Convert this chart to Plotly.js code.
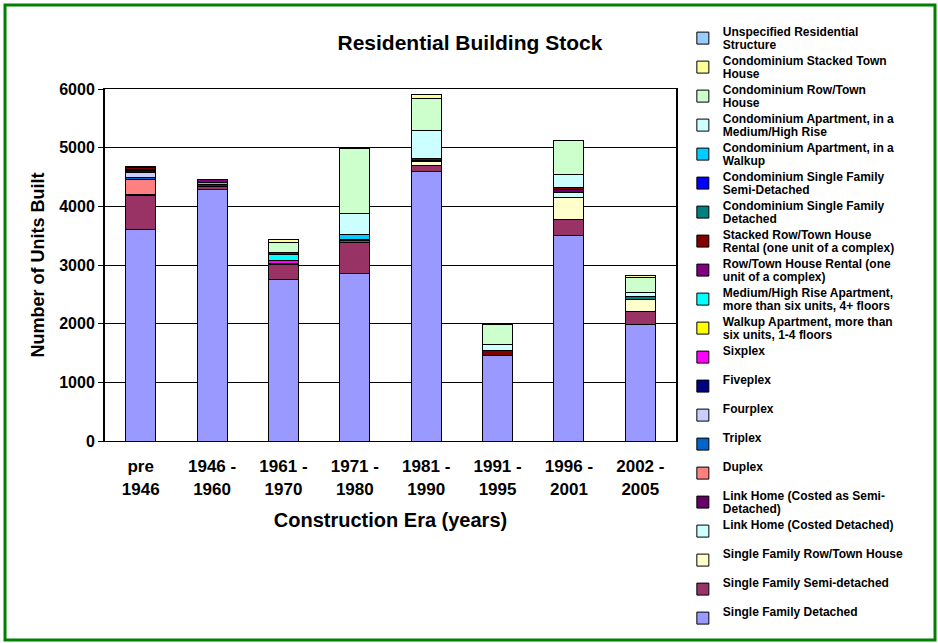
<!DOCTYPE html>
<html>
<head>
<meta charset="utf-8">
<script src="https://cdn.plot.ly/plotly-3.0.1.min.js"></script>
<style>
  html, body { margin: 0; padding: 0; background: #ffffff; }
  #chart { width: 938px; height: 643px; }
</style>
</head>
<body>
<div id="chart"></div>
<script>
// construction eras (x categories)
var eras = ["pre<br>1946", "1946 -<br>1960", "1961 -<br>1970", "1971 -<br>1980",
            "1981 -<br>1990", "1991 -<br>1995", "1996 -<br>2001", "2002 -<br>2005"];

// units built per era, one array per building type (stack order, bottom first)
var sfDetached      = [3600, 4290, 2750, 2850, 4590, 1455, 3510, 1990];
var sfSemi          = [ 580,   50,  260,  530,  110,    0,  270,  215];
var sfRowTown       = [   0,    0,    0,    0,   60,    0,  375,  215];
var linkDetached    = [   0,    0,    0,    0,    0,    0,   80,    0];
var linkSemi        = [  15,   30,    0,    0,   25,    0,   45,    0];
var duplex          = [ 255,   30,    0,    0,    0,    0,    0,    0];
var triplex         = [  50,    0,    0,    0,    0,    0,    0,    0];
var fourplex        = [  75,    0,    0,    0,    0,    0,    0,    0];
var fiveplex        = [  35,    0,   15,    0,    0,    0,    0,    0];
var sixplex         = [   0,    0,   55,    0,    0,    0,    0,    0];
var walkupApt       = [   0,    0,    0,    0,    0,    0,    0,    0];
var highRiseApt     = [   0,    0,  100,    0,    0,    0,    0,    0];
var rowRental       = [  25,   60,    0,    0,    0,    0,    0,    0];
var stackedRental   = [  25,    0,   40,    0,   35,   80,   40,    0];
var condoSfDetached = [   0,    0,    0,   35,    0,    0,    0,   40];
var condoSfSemi     = [  20,    0,    0,   20,    0,    0,    0,    0];
var condoWalkup     = [   0,    0,    0,   80,    0,    0,    0,    0];
var condoHighRise   = [   0,    0,    0,  355,  475,  115,  230,   70];
var condoRowTown    = [   0,    0,  165, 1110,  535,  340,  565,  255];
var condoStacked    = [   0,    0,   55,    0,   75,    0,    0,   35];
var unspecified     = [   0,    0,    0,    0,    0,    0,    0,    0];

var series = [
  {name: "Single Family Detached", y: sfDetached, color: "#9999FF"},
  {name: "Single Family Semi-detached", y: sfSemi, color: "#993366"},
  {name: "Single Family Row/Town House", y: sfRowTown, color: "#FFFFCC"},
  {name: "Link Home (Costed Detached)", y: linkDetached, color: "#CCFFFF"},
  {name: "Link Home (Costed as Semi-<br>Detached)", y: linkSemi, color: "#660066"},
  {name: "Duplex", y: duplex, color: "#FF8080"},
  {name: "Triplex", y: triplex, color: "#0066CC"},
  {name: "Fourplex", y: fourplex, color: "#CCCCFF"},
  {name: "Fiveplex", y: fiveplex, color: "#000080"},
  {name: "Sixplex", y: sixplex, color: "#FF00FF"},
  {name: "Walkup Apartment, more than<br>six units, 1-4 floors", y: walkupApt, color: "#FFFF00"},
  {name: "Medium/High Rise Apartment,<br>more than six units, 4+ floors", y: highRiseApt, color: "#00FFFF"},
  {name: "Row/Town House Rental (one<br>unit of a complex)", y: rowRental, color: "#800080"},
  {name: "Stacked Row/Town House<br>Rental (one unit of a complex)", y: stackedRental, color: "#800000"},
  {name: "Condominium Single Family<br>Detached", y: condoSfDetached, color: "#008080"},
  {name: "Condominium Single Family<br>Semi-Detached", y: condoSfSemi, color: "#0000FF"},
  {name: "Condominium Apartment, in a<br>Walkup", y: condoWalkup, color: "#00CCFF"},
  {name: "Condominium Apartment, in a<br>Medium/High Rise", y: condoHighRise, color: "#CCFFFF"},
  {name: "Condominium Row/Town<br>House", y: condoRowTown, color: "#CCFFCC"},
  {name: "Condominium Stacked Town<br>House", y: condoStacked, color: "#FFFF99"},
  {name: "Unspecified Residential<br>Structure", y: unspecified, color: "#99CCFF"}
];

var boldFont = "Liberation Sans, Arial, sans-serif";

// legend rows are spaced for a 10px font, text itself drawn bigger
function legendLabel(name) {
  var lines = name.split("<br>");
  if (lines.length < 2) lines.push(" ");
  return lines.map(function (t) {
    return '<span style="font-size:12px">' + t + '</span>';
  }).join("<br>");
}

var traces = series.map(function (s) {
  return {
    type: "bar",
    name: legendLabel(s.name),
    x: eras,
    y: s.y,
    marker: {color: s.color, line: {color: "#000000", width: 1}},
    hoverinfo: "x+y"
  };
});

var layout = {
  width: 938,
  height: 643,
  barmode: "stack",
  bargap: 0.58,
  paper_bgcolor: "#ffffff",
  plot_bgcolor: "#ffffff",
  margin: {l: 105, r: 262, t: 89, b: 202},
  font: {family: boldFont, color: "#000000", weight: "bold"},
  title: {
    text: "Residential Building Stock",
    font: {size: 21, family: boldFont, weight: "bold"},
    x: 0.501, xanchor: "center",
    y: 0.933, yanchor: "middle"
  },
  xaxis: {
    type: "category",
    showline: true, linecolor: "#000000", linewidth: 1, mirror: true,
    ticks: "", showgrid: false,
    ticklabelstandoff: 10,
    tickfont: {size: 17, family: boldFont, weight: "bold"},
    title: {text: "Construction Era (years)", standoff: 15,
            font: {size: 20, family: boldFont, weight: "bold"}}
  },
  yaxis: {
    range: [0, 6000], dtick: 1000,
    showline: true, linecolor: "#000000", linewidth: 2, mirror: true,
    ticks: "outside", ticklen: 5, tickcolor: "#000000",
    showgrid: true, gridcolor: "#000000", gridwidth: 1,
    zeroline: false,
    tickfont: {size: 16, family: boldFont, weight: "bold"},
    title: {text: "Number of Units Built", standoff: 10,
            font: {size: 18, family: boldFont, weight: "bold"}}
  },
  legend: {
    traceorder: "reversed",
    x: 1.012, xanchor: "left",
    y: 1.2, yanchor: "top",
    maxheight: 640,
    font: {size: 10, family: boldFont, weight: "bold"},
    bgcolor: "rgba(0,0,0,0)",
    tracegroupgap: 0
  },
  shapes: [{
    type: "rect", xref: "paper", yref: "paper",
    x0: -0.1751, x1: 1.4536, y0: -0.5653, y1: 1.2386,
    line: {color: "#008000", width: 3}, fillcolor: "rgba(0,0,0,0)"
  }],
  showlegend: true
};

Plotly.newPlot("chart", traces, layout, {displayModeBar: false, staticPlot: true});
</script>
</body>
</html>
